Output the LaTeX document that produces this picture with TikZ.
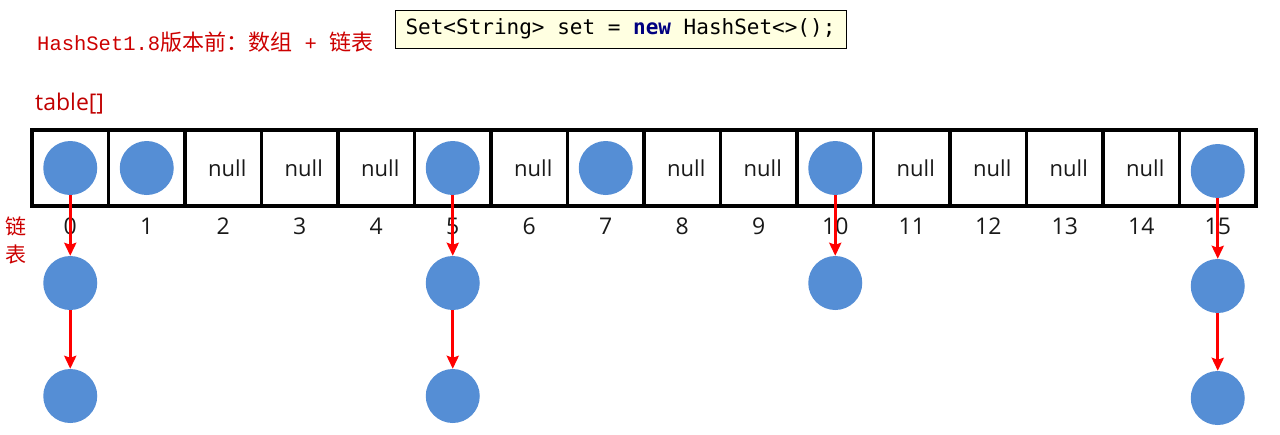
\documentclass[tikz,border=0pt]{standalone}
\usepackage{fontspec}
\setmainfont{Open Sans}
\setmonofont{DejaVu Sans Mono}
\newfontfamily\cjk{Noto Sans CJK SC}
\newfontfamily\titlemono{Liberation Mono}
\usetikzlibrary{arrows.meta}
\definecolor{nodeblue}{RGB}{85,142,213}
\definecolor{titlered}{RGB}{204,0,0}
\definecolor{tablered}{RGB}{192,0,0}
\definecolor{codebg}{RGB}{255,255,225}
\definecolor{keyword}{RGB}{0,0,128}
\tikzset{
  cell/.style={draw,line width=3.5pt,minimum width=76.5pt,minimum height=76pt,inner sep=0pt},
  entry/.style={circle,fill=nodeblue,minimum size=54pt,inner sep=0pt},
  link/.style={red,line width=3pt,-{Stealth[length=13pt,width=12pt,inset=2pt]}},
  label/.style={font=\fontsize{22}{26}\selectfont,text=black!90},
}
\begin{document}
\begin{tikzpicture}[x=1pt,y=-1pt]
\useasboundingbox (0,0) rectangle (1280,434);

% Heading and code
\node[anchor=west,text=titlered,font=\fontsize{20.5}{24}\selectfont,inner sep=0pt] (title) at (37,42)
  {{\titlemono HashSet1.8}{\cjk\fontsize{22}{24}\selectfont 版本前：数组}{\titlemono{} + }{\cjk\fontsize{22}{24}\selectfont 链表}};
\node[draw,line width=1pt,fill=codebg,minimum width=451pt,minimum height=38pt,
  font=\ttfamily\fontsize{21}{25}\selectfont] (code) at (620.5,29)
  {Set<String> set = {\bfseries\color{keyword}new} HashSet<>();};
\node[anchor=west,text=tablered,font=\fontsize{23}{27}\selectfont,inner sep=0pt] (tablename) at (35,104) {table[]};

% Array of buckets
\foreach \i in {0,...,15}
  \node[cell] (c\i) at ({32+76.5*(\i+0.5)},168) {};
\foreach \i in {2,3,4,6,8,9,11,12,13,14}
  \node[label] (n\i) at ([xshift=4pt]c\i) {null};
\foreach \i in {0,...,15}
  \node[label,font=\fontsize{23}{27}\selectfont] (idx\i) at ([yshift=-58pt]c\i) {\i};

% Side label
\node[text=titlered,font=\cjk\fontsize{21}{28}\selectfont,align=center,inner sep=0pt] (chain) at (16,240) {链\\表};

% Entries in the buckets
\foreach \i in {0,1,5,7,10}
  \node[entry] (e\i) at (c\i) {};
\node[entry] (e15) at ([yshift=-3pt]c15) {};

% Linked lists
\node[entry] (e0b) at ([yshift=-115pt]c0) {};
\node[entry] (e0c) at ([yshift=-228pt]c0) {};
\node[entry] (e5b) at ([yshift=-115pt]c5) {};
\node[entry] (e5c) at ([yshift=-228pt]c5) {};
\node[entry] (e10b) at ([yshift=-115pt]c10) {};
\node[entry] (e15b) at ([yshift=-118pt]c15) {};
\node[entry] (e15c) at ([yshift=-230pt]c15) {};

\draw[link] (e0) -- (e0b);
\draw[link] (e0b) -- (e0c);
\draw[link] (e5) -- (e5b);
\draw[link] (e5b) -- (e5c);
\draw[link] (e10) -- (e10b);
\draw[link] (e15) -- (e15b);
\draw[link] (e15b) -- (e15c);

\end{tikzpicture}
\end{document}
